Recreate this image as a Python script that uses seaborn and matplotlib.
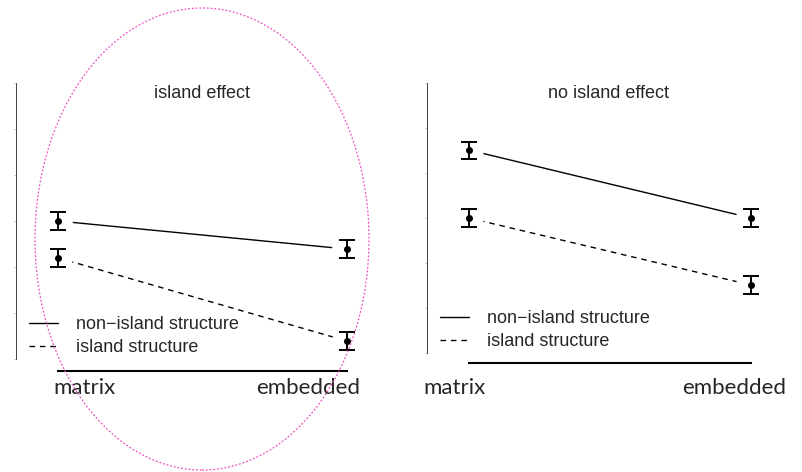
import numpy as np
import pandas as pd
import matplotlib
matplotlib.use("Agg")
import matplotlib.pyplot as plt
from matplotlib.patches import Ellipse
import seaborn as sns

# donnees (unites arbitraires, echelle 0-6)
conditions = ["matrix", "embedded"]
structures = ["non\u2212island structure", "island structure"]
titles = ["island effect", "no island effect"]
effect_nonisland = [3.0, 2.39]
effect_island = [2.2, 0.39]
noeffect_nonisland = [4.51, 3.0]
noeffect_island = [3.0, 1.51]
err_effect = [[0.2, 0.2], [0.2, 0.2]]
err_noeffect = [[0.19, 0.2], [0.2, 0.2]]

W, H = 803, 472
sns.set_style("white")
plt.rcParams["font.family"] = ["Liberation Sans", "DejaVu Sans"]

fig = plt.figure(figsize=(W / 100, H / 100), dpi=100)


def make_ax(spine_x, x0_px, x1_px, right_px, bottom_px, y0_px, top_px):
    # axes placed in pixels, limits chosen so that x=0/1 and y=0/6 land on the anchors
    ax = fig.add_axes([spine_x / W, (H - bottom_px) / H,
                       (right_px - spine_x) / W, (bottom_px - top_px) / H])
    sx = x1_px - x0_px
    sy = (y0_px - top_px) / 6
    ax.set_xlim(-(x0_px - spine_x) / sx, (right_px - x0_px) / sx)
    ax.set_ylim(-(bottom_px - y0_px) / sy, 6)
    return ax


axes = [make_ax(16, 58, 347, 385, 371, 359, 83),
        make_ax(427, 469, 751, 795, 363, 353, 83)]

panels = [(effect_nonisland, effect_island, err_effect),
          (noeffect_nonisland, noeffect_island, err_noeffect)]

legend_pos = [(29, 316), (440, 310)]

for ax, (nonisl, isl, errs), title, lpos in zip(axes, panels, titles, legend_pos):
    df = pd.DataFrame({
        "x": [0, 1, 0, 1],
        "y": nonisl + isl,
        "structure": [structures[0]] * 2 + [structures[1]] * 2,
    })
    sns.lineplot(data=df, x="x", y="y", style="structure",
                 dashes={structures[0]: "", structures[1]: (4.0, 3.5)},
                 color="black", lw=1.0, ax=ax, zorder=1)
    # trous autour des points (style R type="b")
    ax.scatter(df["x"], df["y"], s=460, color="white", edgecolors="none", zorder=2)
    for vals, e in zip([nonisl, isl], errs):
        ax.errorbar([0, 1], vals, yerr=e, fmt="o", color="black", ms=4,
                    elinewidth=1.4, capsize=6, capthick=1.4, zorder=3, clip_on=False)

    handles, labels = ax.get_legend_handles_labels()
    ax.legend(handles, labels, loc="upper left",
              bbox_to_anchor=(lpos[0] / W, 1 - lpos[1] / H),
              bbox_transform=fig.transFigure, frameon=False, fontsize=13,
              handlelength=1.6, handletextpad=1.0, labelspacing=0.36,
              borderaxespad=0, borderpad=0)

    for s in ["top", "right"]:
        ax.spines[s].set_visible(False)
    ax.spines["left"].set_bounds(0, 6)
    ax.spines["left"].set_color("#444444")
    ax.spines["left"].set_linewidth(0.7)
    ax.spines["bottom"].set_bounds(0, 1)
    ax.spines["bottom"].set_color("black")
    ax.spines["bottom"].set_linewidth(1.5)
    ax.set_yticks(range(7))
    ax.set_yticklabels([])
    ax.tick_params(axis="y", length=1.5, width=0.5, color="#aaaaaa", left=True)
    ax.set_xticks([])
    ax.set_xlabel("")
    ax.set_ylabel("")
    ax.patch.set_alpha(0)

# titres et etiquettes de l'axe x
fig.text(202 / W, 1 - 94 / H, titles[0], ha="center", va="center", fontsize=13)
fig.text(609 / W, 1 - 93 / H, titles[1], ha="center", va="center", fontsize=13)

lab_font = ["Lato", "DejaVu Sans"]
fig.text(53 / W, 1 - 388 / H, conditions[0], ha="left", va="center", fontsize=16, family=lab_font)
fig.text(360 / W, 1 - 388 / H, conditions[1], ha="right", va="center", fontsize=16, family=lab_font)
fig.text(423 / W, 1 - 388 / H, conditions[0], ha="left", va="center", fontsize=16, family=lab_font)
fig.text(786 / W, 1 - 388 / H, conditions[1], ha="right", va="center", fontsize=16, family=lab_font)

# ellipse rose pointillee
ell = Ellipse((202 / 100, (H - 239) / 100), 3.34, 4.62, transform=fig.dpi_scale_trans,
              fill=False, edgecolor="#f050c0", linestyle=(0, (1.5, 1.5)), lw=0.9, zorder=10)
fig.add_artist(ell)

plt.savefig("out.png", dpi=100)
plt.close()
